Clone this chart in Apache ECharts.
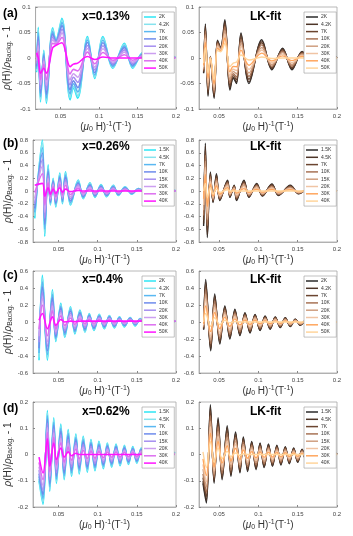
<!DOCTYPE html>
<html>
<head>
<meta charset="utf-8">
<script src="https://cdn.jsdelivr.net/npm/echarts@6/dist/echarts.min.js"></script>
<style>
  html, body { margin: 0; padding: 0; background: #fff; }
  #chart { width: 353px; height: 536px; }
</style>
</head>
<body>
<div id="chart"></div>
<script>
// temperatures in the legends
const tempsA = ['2K', '4.2K', '7K', '10K', '20K', '30K', '40K', '50K']
const tempsB = ['1.5K', '4.5K', '7K', '10K', '15K', '20K', '30K', '40K']

const dataColors = ['#2ee6f5', '#86e3ee', '#5ab8f2', '#6e8cec', '#a58ef0', '#cc9ff0', '#dd6ef0', '#ff14ff']
const fitColors = ['#2b2b2b', '#4d3528', '#6b4530', '#a87355', '#cf9f80', '#f0c4a4', '#ffa65e', '#ffd59c']

// share of the lowest-T amplitude kept at each temperature
const ampShare = [1, 0.93, 0.82, 0.7, 0.55, 0.4, 0.22, 0]

const xTicks = [0.05, 0.1, 0.15, 0.2]

// (a) x=0.13%  -- extrema of the lowest-T and highest-T curves
const xA = [0.0188, 0.021, 0.0239, 0.0282, 0.0316, 0.0397, 0.044, 0.0517, 0.0624, 0.0667, 0.0722, 0.085, 0.0944, 0.1051, 0.118, 0.1329, 0.1436, 0.1564, 0.1628, 0.1756, 0.188, 0.199]
const lowA = [-0.028, 0.06, -0.086, 0.015, -0.089, 0.059, 0.036, 0.078, -0.082, -0.059, -0.079, 0.042, -0.04, 0.042, -0.02, 0.029, -0.02, 0.01, -0.015, 0.005, -0.005, 0.003]
const highA = [0.01, 0.0, -0.03, -0.02, -0.03, 0.02, 0.025, 0.03, -0.017, -0.012, -0.01, 0.003, -0.003, 0.002, 0, 0, 0, 0, 0, 0, 0, 0]

const xAf = [0.0303, 0.0325, 0.0359, 0.0389, 0.0436, 0.0479, 0.052, 0.0573, 0.0637, 0.068, 0.0722, 0.0778, 0.088, 0.1043, 0.1171, 0.1308, 0.1427, 0.1556, 0.168, 0.18, 0.19, 0.2]
const lowAf = [-0.03, 0.067, -0.075, 0.003, -0.079, 0.035, 0.02, 0.075, -0.063, -0.04, -0.05, 0.049, -0.05, 0.036, -0.023, 0.019, -0.023, 0.013, -0.012, 0.008, -0.006, 0.002]
const highAf = [-0.01, 0.02, -0.03, 0, -0.043, 0.015, 0.012, 0.029, -0.017, -0.01, -0.008, 0.006, -0.004, 0.002, -0.001, 0, 0, 0, 0, 0, 0, 0]

// (b) x=0.26%
const xB = [0.0197, 0.0295, 0.0325, 0.0368, 0.0397, 0.0432, 0.0466, 0.0517, 0.0551, 0.059, 0.0654, 0.0752, 0.0816, 0.0902, 0.0966, 0.1043, 0.1115, 0.12, 0.1265, 0.135, 0.1436, 0.1521, 0.1628, 0.1756, 0.1885, 0.1991]
const lowB = [-0.43, 0.8, -0.71, 0.41, -0.22, 0.2, -0.25, 0.28, -0.2, 0.3, -0.22, 0.17, -0.12, 0.13, -0.1, 0.1, -0.09, 0.09, -0.07, 0.065, -0.05, 0.04, -0.03, 0.02, -0.015, 0.01]
const highB = [0.09, 0.12, -0.08, 0.05, -0.05, 0.03, -0.04, 0.05, -0.02, 0.03, -0.01, 0.01, 0, 0, 0, 0, 0, 0, 0, 0, 0, 0, 0, 0, 0, 0]

const xBf = [0.0303, 0.0325, 0.035, 0.0389, 0.0423, 0.0466, 0.0509, 0.0607, 0.0637, 0.0692, 0.0722, 0.0816, 0.088, 0.0979, 0.1051, 0.1171, 0.1256, 0.1406, 0.1513, 0.1641, 0.1769, 0.1897, 0.2]
const lowBf = [-0.55, 0.75, -0.73, 0.3, -0.18, 0.27, -0.15, 0.17, -0.1, 0.09, -0.15, 0.17, -0.1, 0.12, -0.08, 0.11, -0.07, 0.09, -0.045, 0.04, -0.03, 0.02, 0]
const highBf = [0, 0.12, -0.1, 0.05, -0.05, 0.03, -0.02, 0.02, 0, 0, 0, 0, 0, 0, 0, 0, 0, 0, 0, 0, 0, 0, 0]

// (c) x=0.4%
const xC = [0.0252, 0.0295, 0.0359, 0.0423, 0.0466, 0.053, 0.0581, 0.0654, 0.0709, 0.0774, 0.0838, 0.0893, 0.0953, 0.1021, 0.1085, 0.115, 0.1214, 0.1278, 0.1342, 0.1415, 0.1479, 0.1543, 0.1615, 0.1692, 0.1765, 0.1842, 0.1915, 0.1991]
const lowC = [-0.45, 0.55, -0.45, 0.38, -0.23, 0.22, -0.18, 0.18, -0.14, 0.14, -0.12, 0.1, -0.1, 0.09, -0.08, 0.077, -0.07, 0.06, -0.057, 0.053, -0.045, 0.04, -0.037, 0.03, -0.03, 0.025, -0.02, 0.015]
const highC = [0.02, 0.1, -0.08, 0.06, -0.04, 0.03, 0, 0.01, 0.005, 0.01, 0.01, 0.01, 0.01, 0.01, 0.01, 0.01, 0.01, 0.01, 0.01, 0.01, 0.01, 0.01, 0.01, 0.01, 0.01, 0.01, 0.01, 0.01]

const xCf = [0.0303, 0.0329, 0.0393, 0.0444, 0.0509, 0.0573, 0.0637, 0.0701, 0.0765, 0.0829, 0.0893, 0.0957, 0.1021, 0.1085, 0.115, 0.1214, 0.1278, 0.1342, 0.1406, 0.147, 0.1534, 0.1607, 0.1684, 0.1769, 0.1855, 0.2]
const lowCf = [-0.09, 0.5, -0.34, 0.33, -0.26, 0.19, -0.2, 0.15, -0.16, 0.11, -0.13, 0.09, -0.1, 0.07, -0.085, 0.06, -0.065, 0.05, -0.053, 0.034, -0.04, 0.025, -0.02, 0.015, -0.01, 0]
const highCf = [0, 0.1, -0.05, 0.05, -0.03, 0.02, -0.01, 0.005, 0, 0, 0, 0, 0, 0, 0, 0, 0, 0, 0, 0, 0, 0, 0, 0, 0, 0]

// (d) x=0.62%
const xD = [0.0252, 0.0303, 0.0359, 0.0389, 0.044, 0.0474, 0.053, 0.0573, 0.0624, 0.0667, 0.0722, 0.0765, 0.0816, 0.0868, 0.0915, 0.0966, 0.1017, 0.1073, 0.1124, 0.1179, 0.1235, 0.1286, 0.1342, 0.1393, 0.1449, 0.15, 0.1556, 0.1607, 0.1662, 0.1714, 0.1769, 0.1821, 0.1876, 0.1927, 0.1983]
const lowD = [-0.1, -0.19, 0.167, -0.14, 0.14, -0.11, 0.116, -0.096, 0.095, -0.083, 0.078, -0.074, 0.069, -0.067, 0.057, -0.062, 0.05, -0.054, 0.044, -0.048, 0.04, -0.043, 0.035, -0.038, 0.03, -0.033, 0.025, -0.028, 0.02, -0.022, 0.017, -0.018, 0.014, -0.014, 0.01]
const highD = [-0.01, -0.07, 0.06, -0.045, 0.044, -0.02, 0.025, -0.01, 0.01, -0.005, 0.005, 0, 0, 0, 0, 0, 0, 0, 0, 0, 0, 0, 0, 0, 0, 0, 0, 0, 0, 0, 0, 0, 0, 0, 0]

const xDf = [0.0295, 0.0338, 0.0389, 0.0436, 0.0487, 0.0538, 0.0603, 0.065, 0.0709, 0.0765, 0.0808, 0.0863, 0.0915, 0.097, 0.1021, 0.1073, 0.1128, 0.1179, 0.1235, 0.1286, 0.1342, 0.1393, 0.1449, 0.15, 0.1556, 0.1607, 0.1662, 0.1714, 0.1769, 0.1821, 0.1876, 0.1927, 0.2]
const lowDf = [-0.11, -0.185, 0.19, -0.11, 0.14, -0.096, 0.11, -0.083, 0.086, -0.07, 0.067, -0.065, 0.05, -0.058, 0.044, -0.05, 0.04, -0.045, 0.035, -0.04, 0.03, -0.035, 0.025, -0.03, 0.02, -0.025, 0.016, -0.02, 0.012, -0.015, 0.01, -0.01, 0.005]
const highDf = [0.01, -0.05, 0.05, -0.03, 0.025, -0.015, 0.012, -0.008, 0.006, -0.004, 0.003, 0, 0, 0, 0, 0, 0, 0, 0, 0, 0, 0, 0, 0, 0, 0, 0, 0, 0, 0, 0, 0, 0]

const panels = [
  { row: 0, col: 0, x: xA, low: lowA, high: highA, temps: tempsA, y: [-0.1, 0.1, 0.05], title: 'x=0.13%', tag: '(a)' },
  { row: 0, col: 1, x: xAf, low: lowAf, high: highAf, temps: tempsA, y: [-0.1, 0.1, 0.05], title: 'LK-fit' },
  { row: 1, col: 0, x: xB, low: lowB, high: highB, temps: tempsB, y: [-0.8, 0.8, 0.2], title: 'x=0.26%', tag: '(b)' },
  { row: 1, col: 1, x: xBf, low: lowBf, high: highBf, temps: tempsB, y: [-0.8, 0.8, 0.2], title: 'LK-fit' },
  { row: 2, col: 0, x: xC, low: lowC, high: highC, temps: tempsA, y: [-0.6, 0.6, 0.2], title: 'x=0.4%', tag: '(c)' },
  { row: 2, col: 1, x: xCf, low: lowCf, high: highCf, temps: tempsA, y: [-0.6, 0.6, 0.2], title: 'LK-fit' },
  { row: 3, col: 0, x: xD, low: lowD, high: highD, temps: tempsB, y: [-0.2, 0.2, 0.1], title: 'x=0.62%', tag: '(d)' },
  { row: 3, col: 1, x: xDf, low: lowDf, high: highDf, temps: tempsB, y: [-0.2, 0.2, 0.1], title: 'LK-fit' },
]

const rowTop = [7, 140, 271, 402]
const rowH = [102, 102, 102, 105]
const colLeft = [33, 199]
const colW = [143, 138]
const colXMin = [0.0175, 0.0244]
const legendLeft = [142, 304]
const titleLeft = [82, 250]
const titleTop = [11, 141, 274, 406]
const tagTop = [8, 138, 270, 403]

const FONT = '"Liberation Sans", Arial, sans-serif'
const AXIS_GRAY = '#a6a6a6'

const xName = '({it|μ}{sub|0} H){sup|-1}(T{sup|-1})'
const yName = '{it|ρ}(H)/{it|ρ}{sub|Backg.} - 1'
const nameRich = {
  it: { fontStyle: 'italic', fontSize: 10, fontFamily: FONT, color: '#333' },
  sub: { fontSize: 7, fontFamily: FONT, color: '#333', verticalAlign: 'bottom', lineHeight: 7 },
  sup: { fontSize: 7, fontFamily: FONT, color: '#333', verticalAlign: 'top', lineHeight: 7 },
}

const grid = [], xAxis = [], yAxis = [], series = [], legend = [], title = []

panels.forEach((p, i) => {
  const colors = p.col === 0 ? dataColors : fitColors
  grid.push({
    left: colLeft[p.col], top: rowTop[p.row], width: colW[p.col], height: rowH[p.row],
    show: true, borderColor: AXIS_GRAY, borderWidth: 0.8, backgroundColor: '#fff',
  })
  xAxis.push({
    gridIndex: i, type: 'value', min: colXMin[p.col], max: 0.2,
    axisLine: { show: true, onZero: false, lineStyle: { color: AXIS_GRAY, width: 0.8 } },
    axisTick: { show: true, inside: true, length: 2, customValues: xTicks, lineStyle: { color: '#888' } },
    axisLabel: { customValues: xTicks, fontSize: 6, color: '#444', margin: 4, fontFamily: FONT, formatter: v => String(v) },
    splitLine: { show: false },
    name: xName, nameLocation: 'middle', nameGap: 12,
    nameTextStyle: { fontSize: 10, color: '#333', fontFamily: FONT, lineHeight: 12, rich: nameRich },
  })
  yAxis.push({
    gridIndex: i, type: 'value', min: p.y[0], max: p.y[1], interval: p.y[2],
    axisLine: { show: true, lineStyle: { color: AXIS_GRAY, width: 0.8 } },
    axisTick: { show: true, inside: true, length: 2, lineStyle: { color: '#888' } },
    axisLabel: { fontSize: 6, color: '#444', margin: 5, fontFamily: FONT },
    splitLine: { show: false },
    name: p.col === 0 ? yName : '', nameLocation: 'middle', nameGap: 18,
    nameTextStyle: { fontSize: 10, color: '#333', fontFamily: FONT, lineHeight: 12, rich: nameRich },
  })
  p.temps.forEach((t, k) => {
    const w = ampShare[k]
    series.push({
      name: t, type: 'line', xAxisIndex: i, yAxisIndex: i,
      data: p.x.map((xv, j) => [xv, p.high[j] + w * (p.low[j] - p.high[j])]),
      showSymbol: false, symbol: 'none', smooth: 0.35,
      lineStyle: { color: colors[k], width: p.col === 0 ? 1.6 : 1.4 },
      itemStyle: { color: colors[k] },
      animation: false, silent: true,
    })
  })
  legend.push({
    orient: 'vertical', left: legendLeft[p.col], top: rowTop[p.row] + 5,
    icon: 'rect', itemWidth: 12, itemHeight: 1.5, itemGap: 1.3,
    padding: [2, 5, 2, 2], backgroundColor: '#fff', borderColor: '#999', borderWidth: 0.6,
    borderRadius: 0, selectedMode: false,
    textStyle: { fontSize: 5, lineHeight: 6, color: '#333', fontFamily: FONT, padding: [0, 0, 0, -2] },
    data: p.temps.map((t, k) => ({ name: t, itemStyle: { color: colors[k] } })),
  })
  title.push({
    text: p.title, left: titleLeft[p.col], top: titleTop[p.row], padding: 0,
    textStyle: { fontSize: 12, fontWeight: 'bold', color: '#000', fontFamily: FONT },
  })
  if (p.tag) {
    title.push({
      text: p.tag, left: 3, top: tagTop[p.row], padding: 0,
      textStyle: { fontSize: 12, fontWeight: 'bold', color: '#000', fontFamily: FONT },
    })
  }
})

const chart = echarts.init(document.getElementById('chart'), null, { renderer: 'canvas' })
chart.setOption({
  animation: false,
  backgroundColor: '#fff',
  title, grid, xAxis, yAxis, legend, series,
})
</script>
</body>
</html>
